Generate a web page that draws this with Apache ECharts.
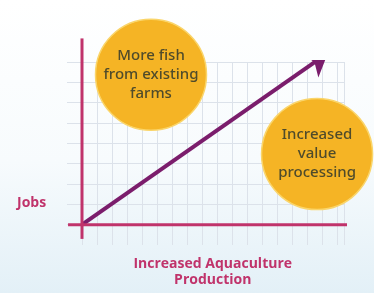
<!DOCTYPE html>
<html>
<head>
<meta charset="utf-8">
<script src="https://cdn.jsdelivr.net/npm/echarts@6/dist/echarts.min.js"></script>
<style>
  html, body { margin: 0; padding: 0; }
  #chart { width: 374px; height: 293px; }
</style>
</head>
<body>
<div id="chart"></div>
<script>
// values (x: production steps, y: job steps)
const circleLabels = ['More fish\nfrom existing\nfarms', 'Increased\nvalue\nprocessing']
const circleX = [4.6, 15.67]
const circleY = [7.37, 3.47]
const arrowStart = [0, 0]
const arrowEnd = [16.4, 8.45]
const yAxisLine = [[0, -0.7], [0, 9.16]]
const xAxisLine = [[-0.93, 0], [17.67, 0]]
const xName = 'Increased Aquaculture\nProduction'
const yName = 'Jobs'

const axisColor = '#c0336b'
const gridColor = '#dce2ea'

const chart = echarts.init(document.getElementById('chart'))

chart.setOption({
  backgroundColor: {
    type: 'linear', x: 0, y: 0, x2: 0, y2: 1,
    colorStops: [
      { offset: 0, color: '#ffffff' },
      { offset: 0.55, color: '#f7fbfd' },
      { offset: 1, color: '#e3f0f7' }
    ]
  },
  animation: false,
  title: {
    text: yName,
    left: 12,
    top: 191,
    textStyle: { color: axisColor, fontSize: 14, fontWeight: 'bold', fontFamily: 'Open Sans' }
  },
  grid: { left: 67, right: 29.5, top: 62, bottom: 44.25 },
  xAxis: {
    type: 'value',
    min: -1,
    max: 17.5,
    interval: 1,
    name: xName,
    nameLocation: 'middle',
    nameGap: 11,
    nameTextStyle: {
      color: axisColor, fontSize: 14, fontWeight: 'bold', lineHeight: 16,
      fontFamily: 'Open Sans', padding: [0, 0, 0, 14]
    },
    axisLine: { show: false },
    axisTick: { show: false },
    axisLabel: { show: false },
    splitLine: { show: true, showMinLine: false, lineStyle: { color: gridColor, width: 1 } }
  },
  yAxis: {
    type: 'value',
    min: -1,
    max: 8,
    interval: 1,
    axisLine: { show: false },
    axisTick: { show: false },
    axisLabel: { show: false },
    splitLine: { show: true, showMinLine: false, lineStyle: { color: gridColor, width: 1 } }
  },
  series: [
    {
      type: 'line',
      data: yAxisLine,
      clip: false,
      symbol: 'none',
      lineStyle: { color: axisColor, width: 3 },
      silent: true
    },
    {
      type: 'line',
      data: xAxisLine,
      clip: false,
      symbol: 'none',
      lineStyle: { color: axisColor, width: 3 },
      silent: true
    },
    {
      type: 'lines',
      coordinateSystem: 'cartesian2d',
      silent: true,
      symbol: ['none', 'arrow'],
      symbolSize: 22,
      lineStyle: { color: '#7b1d6c', width: 4, opacity: 1 },
      data: [{ coords: [arrowStart, arrowEnd] }]
    },
    {
      type: 'scatter',
      data: circleX.map((x, i) => [x, circleY[i]]),
      symbolSize: 111,
      clip: false,
      itemStyle: { color: '#f5b425', borderColor: '#fad56a', borderWidth: 1.5, opacity: 1 },
      label: {
        show: true,
        position: 'inside',
        formatter: p => circleLabels[p.dataIndex],
        color: '#4f4b2b',
        fontSize: 15,
        fontWeight: 500,
        lineHeight: 19,
        fontFamily: 'Noto Sans'
      }
    }
  ]
})
</script>
</body>
</html>
